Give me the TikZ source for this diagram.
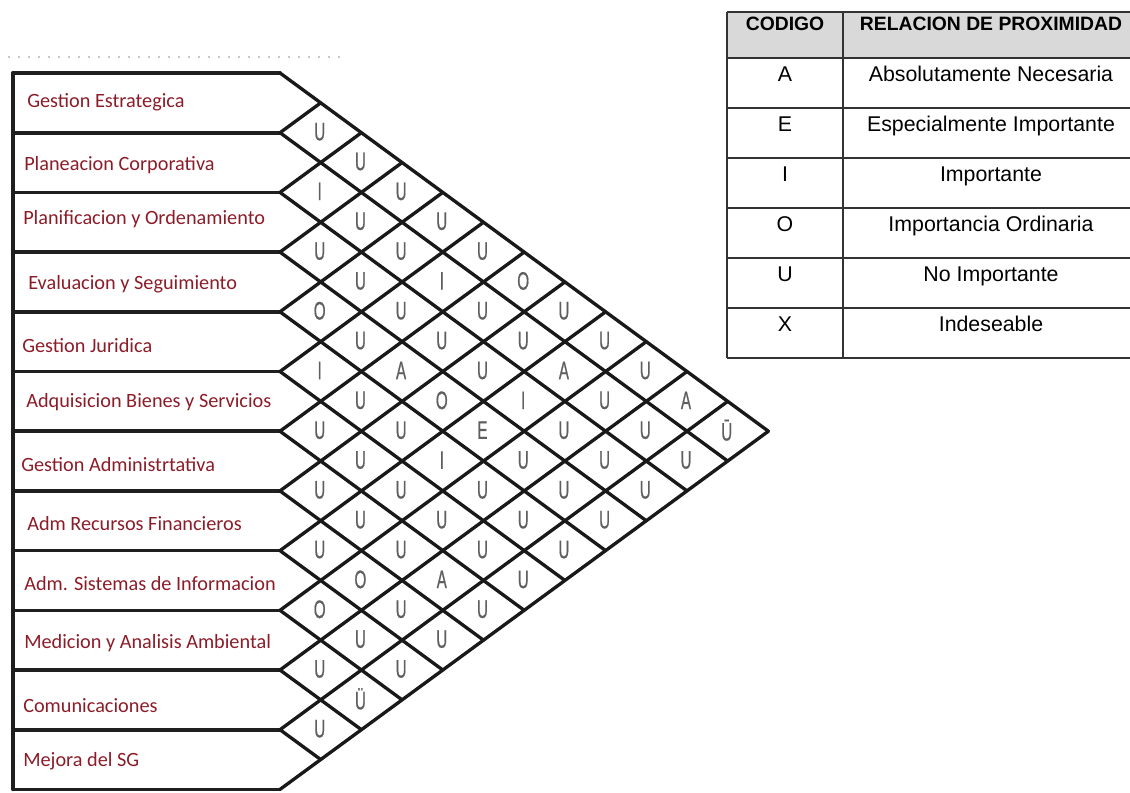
\documentclass[tikz,border=0pt]{standalone}
\usepackage{fontspec}
\setmainfont{Liberation Sans}
\newfontfamily\labfont{Carlito}
\newfontfamily\gridfont[FakeStretch=0.6,FakeBold=0.6]{Liberation Sans}
\definecolor{labred}{RGB}{140,28,40}
\definecolor{gridtxt}{RGB}{95,95,95}
\definecolor{headfill}{RGB}{217,217,217}
\begin{document}
\begin{tikzpicture}[x=0.75pt,y=-0.75pt,
  dept/.style={anchor=west, inner sep=0pt, font=\labfont\fontsize{15.2}{18}\selectfont, text=labred},
  rel/.style={inner sep=0pt, font=\gridfont\fontsize{19}{22}\selectfont, text=gridtxt},
  frameline/.style={line width=2.7pt, draw=black!88, line join=round, line cap=round},
  gridline/.style={line width=2.5pt, draw=black!90, line cap=round},
  tabline/.style={line width=1.2pt, draw=black!80},
  th/.style={anchor=base, inner sep=0pt, font=\bfseries\fontsize{14.5}{17}\selectfont},
  td/.style={anchor=base, inner sep=0pt, font=\fontsize{16}{19}\selectfont},
  texture/.style={draw=gray!45, line width=1.5pt, dash pattern=on 1.5pt off 6pt}]
\useasboundingbox (0,0) rectangle (1130,792);
\def\L{280}\def\T{73}\def\H{59.7}\def\W{40.7}

% faint scan texture
\draw[texture] (8,57) -- (345,57);

% row boxes
\draw[frameline] (13,789.4) -- (13,\T);
\foreach \k in {0,...,12}{
  \draw[frameline] (13,{\T+\k*\H}) -- (\L,{\T+\k*\H});
}
% diagonal grid
\foreach \k in {0,...,12}{
  \draw[gridline] (\L,{\T+\k*\H}) -- ({\L+(12-\k)*\W},{\T+\k*\H+(12-\k)*\H/2});
  \draw[gridline] (\L,{\T+\k*\H}) -- ({\L+\k*\W},{\T+\k*\H-\k*\H/2});
}

% department labels
\node[dept] (r1)  at (27,102) {Gestion Estrategica};
\node[dept] (r2)  at (24,165) {Planeacion Corporativa};
\node[dept] (r3)  at (23,219) {Planificacion y Ordenamiento};
\node[dept] (r4)  at (28,284) {Evaluacion y Seguimiento};
\node[dept] (r5)  at (22,346) {Gestion Juridica};
\node[dept] (r6)  at (26,402) {Adquisicion Bienes y Servicios};
\node[dept] (r7)  at (21,465) {Gestion Administrtativa};
\node[dept] (r8)  at (27,524) {Adm Recursos Financieros};
\node[dept] (r9)  at (24,584) {Adm. Sistemas de Informacion};
\node[dept] (r10) at (24,643) {Medicion y Analisis Ambiental};
\node[dept] (r11) at (23,706) {Comunicaciones};
\node[dept] (r12) at (23,761) {Mejora del SG};

% relationship codes
\foreach \i/\j/\c in {
  1/2/U, 1/3/U,
  2/3/I, 1/4/U,
  2/4/U, 1/5/U,
  3/4/U, 2/5/U, 1/6/U,
  3/5/U, 2/6/I, 1/7/O,
  4/5/O, 3/6/U, 2/7/U, 1/8/U,
  4/6/U, 3/7/U, 2/8/U, 1/9/U,
  5/6/I, 4/7/A, 3/8/U, 2/9/A, 1/10/U,
  5/7/U, 4/8/O, 3/9/I, 2/10/U, 1/11/A,
  6/7/U, 5/8/U, 4/9/E, 3/10/U, 2/11/U, 1/12/Ū,
  6/8/U, 5/9/I, 4/10/U, 3/11/U, 2/12/U,
  7/8/U, 6/9/U, 5/10/U, 4/11/U, 3/12/U,
  7/9/U, 6/10/U, 5/11/U, 4/12/U,
  8/9/U, 7/10/U, 6/11/U, 5/12/U,
  8/10/O, 7/11/A, 6/12/U,
  9/10/O, 8/11/U, 7/12/U,
  9/11/U, 8/12/U,
  10/11/U, 9/12/U,
  10/12/Ü,
  11/12/U}{
  \node[rel] (c-\i-\j) at ({\L+(\j-\i)*\W-1},{\T+(\i+\j-1)*\H/2-1}) {\c};
}

% legend table
\fill[headfill] (727,12) rectangle (1131,58);
\foreach \y in {12,58,108,158,208,258,308,358}{
  \draw[tabline] (727,\y) -- (1131,\y);
}
\draw[tabline] (727,12) -- (727,358);
\draw[tabline] (843,12) -- (843,358);
\node[th] (h1) at (785,31) {CODIGO};
\node[th] (h2) at (991,31) {RELACION DE PROXIMIDAD};
\foreach \n/\c/\t [count=\r from 0] in {a/A/Absolutamente Necesaria, e/E/Especialmente Importante, i/I/Importante, o/O/Importancia Ordinaria, u/U/No Importante, x/X/Indeseable}{
  \node[td] (k-\n) at (785,{81+50*\r}) {\c};
  \node[td] (d-\n) at (991,{81+50*\r}) {\t};
}
\end{tikzpicture}
\end{document}
